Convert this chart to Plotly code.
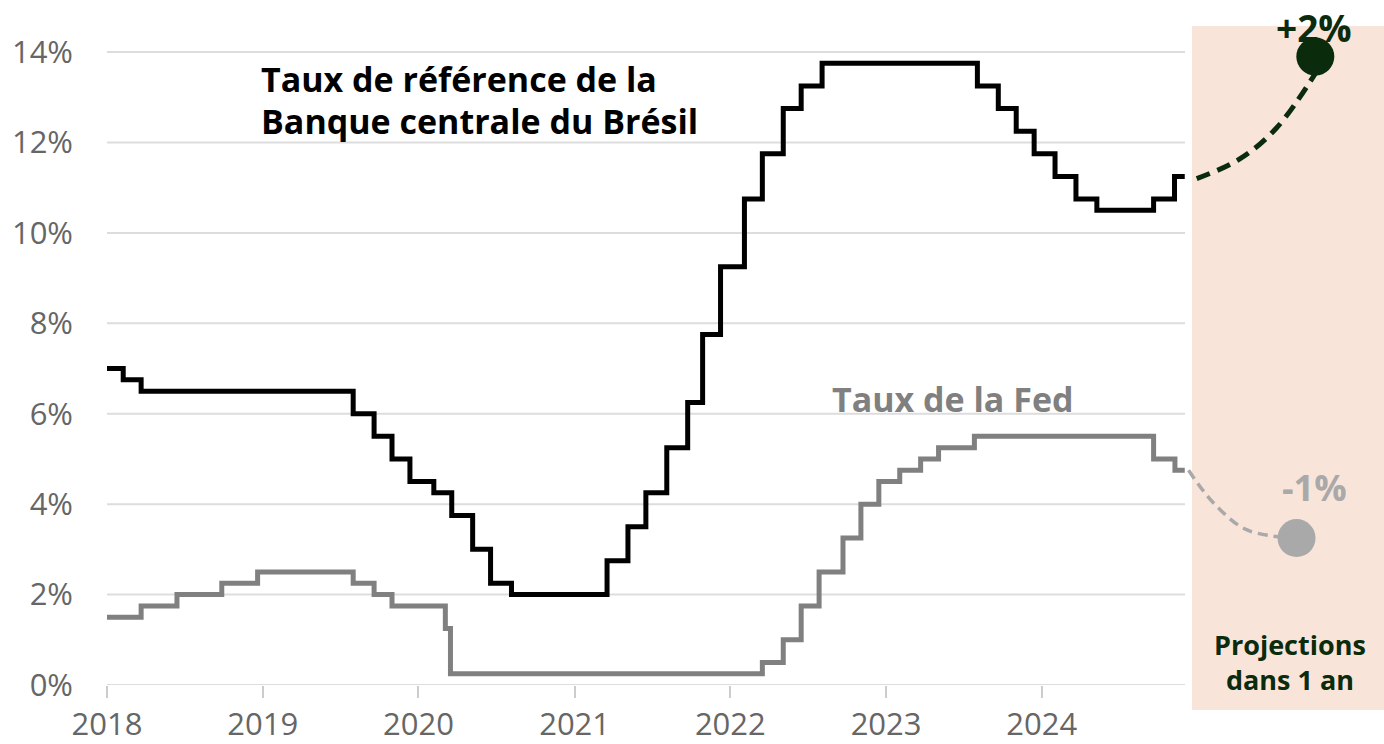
import plotly.graph_objects as go

# ---- Data ----
selic_dates = ["2018-01-01", "2018-02-08", "2018-03-22", "2019-08-01", "2019-09-19", "2019-10-31",
               "2019-12-12", "2020-02-06", "2020-03-19", "2020-05-07", "2020-06-18", "2020-08-06",
               "2021-03-18", "2021-05-06", "2021-06-17", "2021-08-05", "2021-09-23", "2021-10-28",
               "2021-12-09", "2022-02-03", "2022-03-17", "2022-05-05", "2022-06-16", "2022-08-04",
               "2023-08-03", "2023-09-21", "2023-11-02", "2023-12-14", "2024-02-01", "2024-03-21",
               "2024-05-09", "2024-09-19", "2024-11-07", "2024-12-01"]
selic_values = [7.00, 6.75, 6.50, 6.00, 5.50, 5.00, 4.50, 4.25, 3.75, 3.00, 2.25, 2.00,
                2.75, 3.50, 4.25, 5.25, 6.25, 7.75, 9.25, 10.75, 11.75, 12.75, 13.25, 13.75,
                13.25, 12.75, 12.25, 11.75, 11.25, 10.75, 10.50, 10.75, 11.25, 11.25]

fed_dates = ["2018-01-01", "2018-03-22", "2018-06-14", "2018-09-27", "2018-12-20", "2019-08-01",
             "2019-09-19", "2019-10-31", "2020-03-04", "2020-03-16", "2022-03-17", "2022-05-05",
             "2022-06-16", "2022-07-28", "2022-09-22", "2022-11-03", "2022-12-15", "2023-02-02",
             "2023-03-23", "2023-05-04", "2023-07-27", "2024-09-19", "2024-11-08", "2024-12-01"]
fed_values = [1.50, 1.75, 2.00, 2.25, 2.50, 2.25, 2.00, 1.75, 1.25, 0.25, 0.50, 1.00,
              1.75, 2.50, 3.25, 4.00, 4.50, 4.75, 5.00, 5.25, 5.50, 5.00, 4.75, 4.75]

# projected path (dashed) and projected point (dot)
selic_proj_dates = ["2024-12-29", "2025-04-08", "2025-07-04", "2025-10-08"]
selic_proj_values = [11.2, 11.63, 12.32, 13.6]
selic_target_date = "2025-10-03"
selic_target_value = 13.9

fed_proj_dates = ["2024-12-10", "2025-02-06", "2025-04-26", "2025-08-20"]
fed_proj_values = [4.75, 4.03, 3.43, 3.25]
fed_target_date = "2025-08-20"
fed_target_value = 3.25

y_ticks = [0, 2, 4, 6, 8, 10, 12, 14]
x_tick_dates = ["2018-01-01", "2019-01-01", "2020-01-01", "2021-01-01",
                "2022-01-01", "2023-01-01", "2024-01-01"]
x_tick_labels = ["2018", "2019", "2020", "2021", "2022", "2023", "2024"]

# ---- Styles ----
FONT = "Open Sans"
GREEN = "#0a2b0c"
FED_GRAY = "#808080"
PROJ_GRAY = "#a9a9a9"
SHADE = "#f9e4da"

fig = go.Figure()

fig.add_trace(go.Scatter(x=fed_dates, y=fed_values, mode="lines", line_shape="hv",
                         line=dict(color=FED_GRAY, width=5), hoverinfo="skip", showlegend=False))
fig.add_trace(go.Scatter(x=selic_dates, y=selic_values, mode="lines", line_shape="hv",
                         line=dict(color="#000000", width=5), hoverinfo="skip", showlegend=False))

fig.add_trace(go.Scatter(x=fed_proj_dates, y=fed_proj_values, mode="lines", line_shape="spline",
                         line=dict(color=PROJ_GRAY, width=3.5, dash="10px,6px"),
                         hoverinfo="skip", showlegend=False))
fig.add_trace(go.Scatter(x=[fed_target_date], y=[fed_target_value], mode="markers",
                         marker=dict(color=PROJ_GRAY, size=38, line=dict(width=0)),
                         hoverinfo="skip", showlegend=False))

fig.add_trace(go.Scatter(x=selic_proj_dates, y=selic_proj_values, mode="lines", line_shape="spline",
                         line=dict(color=GREEN, width=5, dash="14px,8px"),
                         hoverinfo="skip", showlegend=False))
fig.add_trace(go.Scatter(x=[selic_target_date], y=[selic_target_value], mode="markers",
                         marker=dict(color=GREEN, size=38, line=dict(width=0)),
                         hoverinfo="skip", showlegend=False))

W, H = 1384, 744
ml, mr, mt, mb = 107, 0, 26, 59
plot_w = W - ml - mr
plot_h = H - mt - mb

def px_x(p):
    return (p - ml) / plot_w

def px_y(p):
    return (H - mb - p) / plot_h

shapes = []
# projection shading
shapes.append(dict(type="rect", xref="paper", yref="paper",
                   x0=px_x(1192), x1=1.0, y0=px_y(710), y1=px_y(26),
                   fillcolor=SHADE, line=dict(width=0), layer="below"))
# gridlines
for v in y_ticks:
    shapes.append(dict(type="line", xref="paper", yref="y", x0=0, x1=px_x(1185), y0=v, y1=v,
                       line=dict(color="#dddddd", width=2), layer="below"))

def label(text, x, y, size, color, xanchor="left"):
    return dict(text=text, xref="paper", yref="paper", x=px_x(x), y=px_y(y),
                xanchor=xanchor, yanchor="middle", showarrow=False, align="center",
                font=dict(family=FONT, size=size, color=color, weight=700))

annotations = [
    label("Taux de référence de la", 259, 79, 34, "#000000"),
    label("Banque centrale du Brésil", 259, 121, 34, "#000000"),
    label("Taux de la Fed", 830, 399, 34, FED_GRAY),
    label("+2%", 1314, 27, 37, GREEN, "center"),
    label("-1%", 1314, 487, 36, PROJ_GRAY, "center"),
    label("Projections<br>dans 1 an", 1290, 662, 27, GREEN, "center"),
]

fig.update_layout(
    width=W, height=H,
    margin=dict(l=ml, r=mr, t=mt, b=mb, autoexpand=False),
    paper_bgcolor="white", plot_bgcolor="rgba(0,0,0,0)",
    font=dict(family=FONT),
    shapes=shapes, annotations=annotations,
    showlegend=False,
)
fig.update_xaxes(type="date", range=["2018-01-01", "2026-03-13"],
                 tickvals=x_tick_dates, ticktext=x_tick_labels,
                 showgrid=False, zeroline=False, showline=False,
                 ticks="outside", ticklen=12, tickwidth=2, tickcolor="#cccccc",
                 tickfont=dict(family=FONT, size=31, color="#666666"),
                 fixedrange=True)
fig.update_yaxes(range=[0, (H - mb - mt) / 45.21], tickvals=y_ticks,
                 ticktext=[f"{v}%" for v in y_ticks],
                 showgrid=False, zeroline=False, showline=False, ticks="",
                 ticklabelstandoff=33,
                 tickfont=dict(family=FONT, size=31, color="#666666"),
                 fixedrange=True)

fig.write_html("out.html", config={"displayModeBar": False},
               post_script="document.body.style.margin='0';document.body.style.overflow='hidden';")
